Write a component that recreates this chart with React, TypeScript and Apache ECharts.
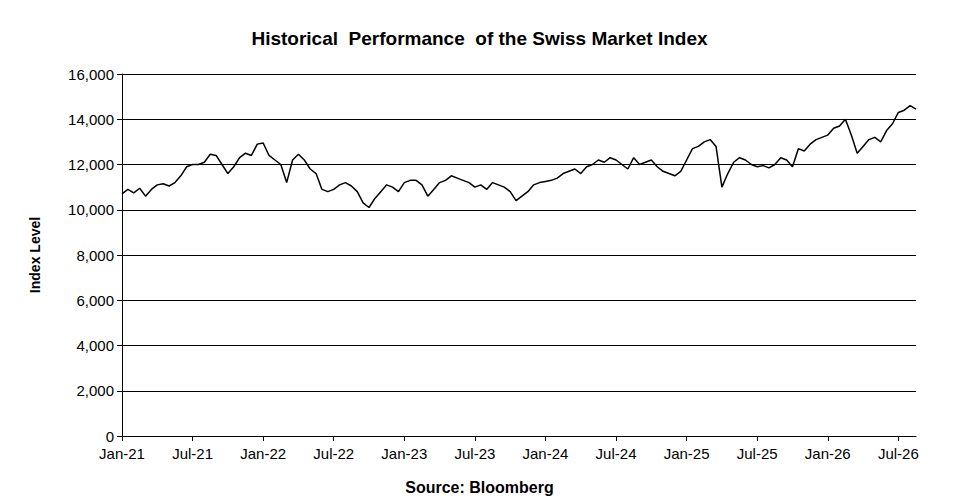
import React, { useEffect, useRef } from 'react';
import * as echarts from 'echarts';

const years = ['21', '22', '23', '24', '25', '26'];
const months = ['Jan', 'Feb', 'Mar', 'Apr', 'May', 'Jun', 'Jul', 'Aug', 'Sep', 'Oct', 'Nov', 'Dec'];

// semi-monthly SMI levels
const smiValues = [
  10700, 10900, 10750, 10950, 10600, 10900, 11100, 11150, 11050, 11200, 11500, 11900, 12000, 12000, 12100, 12450, 12400, 12000, 11600, 11900, 12300, 12500, 12400, 12900,
  12950, 12400, 12200, 12000, 11200, 12200, 12450, 12200, 11800, 11600, 10900, 10800, 10900, 11100, 11200, 11050, 10800, 10300, 10100, 10500, 10800, 11100, 11000, 10800,
  11200, 11300, 11300, 11100, 10600, 10900, 11200, 11300, 11500, 11400, 11300, 11200, 11000, 11100, 10900, 11200, 11100, 11000, 10800, 10400, 10600, 10800, 11100, 11200,
  11250, 11300, 11400, 11600, 11700, 11800, 11600, 11900, 12000, 12200, 12100, 12300, 12200, 12000, 11800, 12300, 12000, 12100, 12200, 11900, 11700, 11600, 11500, 11700,
  12200, 12700, 12800, 13000, 13100, 12800, 11000, 11600, 12100, 12300, 12200, 12000, 11900, 11950, 11850, 12000, 12300, 12200, 11900, 12700, 12600, 12900, 13100, 13200,
  13300, 13600, 13700, 14000, 13300, 12500, 12800, 13100, 13200, 13000, 13500, 13800, 14300, 14400, 14600, 14450,
];

const categories = smiValues.map((_, i) => {
  const m = Math.floor(i / 2);
  return `${months[m % 12]}-${years[Math.floor(m / 12)]}`;
});

const font = 'Liberation Sans, Arial, sans-serif';

const App: React.FC = () => {
  const chartRef = useRef<HTMLDivElement>(null);

  useEffect(() => {
    const chart = echarts.init(chartRef.current!, undefined, { renderer: 'svg' });
    chart.setOption({
      animation: false,
      backgroundColor: '#fff',
      title: {
        text: 'Historical  Performance  of the Swiss Market Index',
        left: 'center',
        top: 23,
        textStyle: { fontFamily: font, fontSize: 19, fontWeight: 'bold', color: '#000' },
      },
      graphic: [
        {
          type: 'text', left: 'center', top: 478,
          style: { text: 'Source: Bloomberg', font: `bold 16px ${font}`, fill: '#000' },
        },
      ],
      grid: { left: 121, right: 42, top: 73, bottom: 67 },
      xAxis: {
        type: 'category',
        data: categories,
        boundaryGap: false,
        axisLine: { lineStyle: { color: '#000' } },
        axisTick: { interval: (i: number) => i % 12 === 0, lineStyle: { color: '#000' }, length: 5 },
        axisLabel: {
          interval: (i: number) => i % 12 === 0,
          color: '#000', fontFamily: font, fontSize: 15, margin: 10,
        },
      },
      yAxis: {
        type: 'value',
        min: 0, max: 16000, interval: 2000,
        name: 'Index Level',
        nameLocation: 'middle',
        nameGap: 80,
        nameTextStyle: { fontFamily: font, fontSize: 14, fontWeight: 'bold', color: '#000' },
        axisLine: { show: true, lineStyle: { color: '#000' } },
        axisTick: { show: true, length: 5, lineStyle: { color: '#000' } },
        splitLine: { lineStyle: { color: '#000' } },
        axisLabel: {
          color: '#000', fontFamily: font, fontSize: 15,
          formatter: (v: number) => v.toLocaleString('en-US'),
        },
      },
      series: [{
        type: 'line',
        data: smiValues,
        showSymbol: false,
        lineStyle: { color: '#000', width: 1.5 },
      }],
    });
    return () => chart.dispose();
  }, []);

  return (
    <div style={{ margin: -8, width: 959, height: 504, border: '1px solid #000', boxSizing: 'border-box' }}>
      <div ref={chartRef} style={{ width: 957, height: 502 }} />
    </div>
  );
};

export default App;
